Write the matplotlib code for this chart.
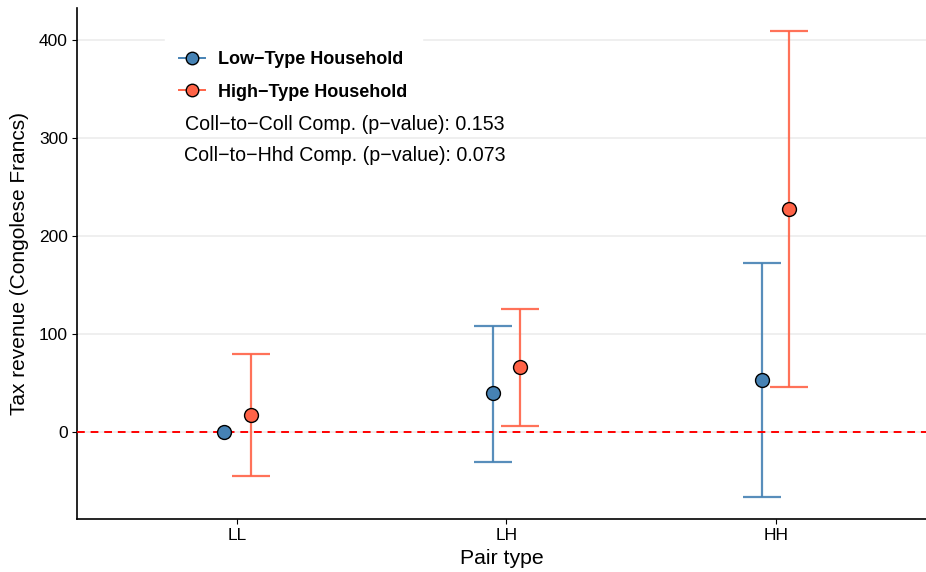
import matplotlib.pyplot as plt
from matplotlib.lines import Line2D
import numpy as np

plt.rcParams['font.family'] = ['Liberation Sans', 'DejaVu Sans']

# --- DATA ---
pair_types = ["LL", "LH", "HH"]
low_est = [0.0, 40.0, 53.0]
low_lo = [np.nan, -30.5, -66.5]   # LL low-type has no interval in the chart
low_hi = [np.nan, 108.0, 172.5]
high_est = [17.0, 66.0, 227.5]
high_lo = [-45.0, 6.0, 46.0]
high_hi = [79.5, 125.5, 409.0]
p_coll = 0.153
p_hhd = 0.073

blue = '#4682B4'
red = '#FF6347'

W, H = 926, 572
fig = plt.figure(figsize=(W / 100, H / 100), dpi=100)
ax = fig.add_axes([77 / W, 53 / H, 1 - 77 / W, (519 - 8) / H])

x = np.arange(1, len(pair_types) + 1)
dodge = 0.05

def draw(xs, est, lo, hi, color):
    est = np.array(est); lo = np.array(lo); hi = np.array(hi)
    ok = ~np.isnan(lo)
    ax.errorbar(xs[ok], est[ok], yerr=[est[ok] - lo[ok], hi[ok] - est[ok]],
                fmt='none', ecolor=color, elinewidth=1.6, capsize=13.5,
                capthick=1.6, alpha=0.9, zorder=3)
    ax.plot(xs, est, 'o', color=color, markeredgecolor='black', markersize=10,
            markeredgewidth=1, zorder=5)

draw(x - dodge, low_est, low_lo, low_hi, blue)
draw(x + dodge, high_est, high_lo, high_hi, red)

ax.axhline(0, color='red', linestyle=(0, (4, 3)), linewidth=1.4, zorder=4)

ax.set_xlim(0.406, 3.557)
ax.set_ylim(-89, 433)
ax.set_xticks(x)
ax.set_xticklabels(pair_types)
ax.set_yticks([0, 100, 200, 300, 400])
ax.grid(True, axis='y', color='#EBEBEB', linewidth=1.1, zorder=0)
ax.set_axisbelow(True)
for s in ['top', 'right']:
    ax.spines[s].set_visible(False)
for s in ['left', 'bottom']:
    ax.spines[s].set_linewidth(1.2)
ax.tick_params(labelsize=12.5, colors='black', length=3.5, pad=3)
ax.set_xlabel("Pair type", fontsize=15.3, labelpad=4)
ax.set_ylabel("Tax revenue (Congolese Francs)", fontsize=15, labelpad=7)

handles = [
    Line2D([], [], color=blue, marker='o', markerfacecolor=blue,
           markeredgecolor='black', markersize=9, linewidth=1.4),
    Line2D([], [], color=red, marker='o', markerfacecolor=red,
           markeredgecolor='black', markersize=9, linewidth=1.4),
]
labels = ["Low\u2212Type Household", "High\u2212Type Household"]
leg = ax.legend(handles, labels, loc='upper left',
                bbox_to_anchor=(165 / W, 1 - 37 / H), bbox_transform=fig.transFigure,
                frameon=True, framealpha=1, edgecolor='white', fancybox=False,
                prop={'weight': 'bold', 'size': 13}, handlelength=1.4,
                handletextpad=0.75, labelspacing=0.85, borderpad=0.8,
                borderaxespad=0)
leg.set_zorder(5)

ax.text(345 / W, 1 - 125 / H,
        f"Coll\u2212to\u2212Coll Comp. (p\u2212value): {p_coll:.3f}",
        transform=fig.transFigure, ha='center', va='center', fontsize=14.1,
        zorder=7)
ax.text(345 / W, 1 - 155 / H,
        f"Coll\u2212to\u2212Hhd Comp. (p\u2212value): {p_hhd:.3f}",
        transform=fig.transFigure, ha='center', va='center', fontsize=14.1,
        zorder=7)

plt.savefig("out.png", dpi=100)
